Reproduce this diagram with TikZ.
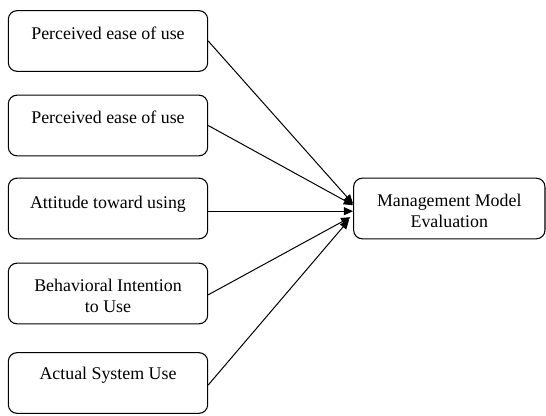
\documentclass[tikz,border=0pt]{standalone}
\usepackage{fontspec}
\setmainfont{Liberation Serif}
\usetikzlibrary{arrows.meta}
\begin{document}
\begin{tikzpicture}[x=0.75pt,y=-0.75pt,
  box/.style={draw=black,line width=0.8pt,rounded corners=6.5pt,minimum width=149.5pt,minimum height=45.5pt,inner sep=0pt},
  mbox/.style={draw=black,line width=0.8pt,rounded corners=6.5pt,minimum width=143.5pt,minimum height=45.5pt,inner sep=0pt},
  txt/.style={inner sep=0pt,font=\fontsize{13.4pt}{15.75pt}\selectfont,align=center},
  arr/.style={draw=black,line width=0.75pt,-{Triangle[length=7pt,width=6pt]}}]
\useasboundingbox (0,0) rectangle (546,415);
\node[box] (b1) at (108,41) {};
\node[box] (b2) at (108,125.5) {};
\node[box] (b3) at (108,208.5) {};
\node[box] (b4) at (108,293.5) {};
\node[box] (b5) at (108,383) {};
\node[mbox] (m) at (449.3,208.5) {};
\node[txt] (t1) at (108,33) {Perceived ease of use};
\node[txt] (t2) at (108,117) {Perceived ease of use};
\node[txt] (t3) at (108,204) {Attitude toward using};
\node[txt] (t4) at (108,295.5) {Behavioral Intention\\to Use};
\node[txt] (t5) at (108,375.5) {Actual System Use};
\node[txt] (tm) at (449.3,210.5) {Management Model\\Evaluation};
\coordinate (e1) at ([yshift=3.5pt]m.west);
\coordinate (e2) at ([yshift=2.5pt]m.west);
\coordinate (e3) at ([yshift=-2pt]m.west);
\coordinate (e4) at ([xshift=-2pt,yshift=-6.5pt]m.west);
\coordinate (e5) at ([xshift=-3pt,yshift=-8.5pt]m.west);
\draw[arr] (b1.east) -- (e1);
\draw[arr] (b2.east) -- (e2);
\draw[arr] ([yshift=-2pt]b3.east) -- (e3);
\draw[arr] ([yshift=-1pt]b4.east) -- (e4);
\draw[arr] ([yshift=-1.5pt]b5.east) -- (e5);
\end{tikzpicture}
\end{document}
